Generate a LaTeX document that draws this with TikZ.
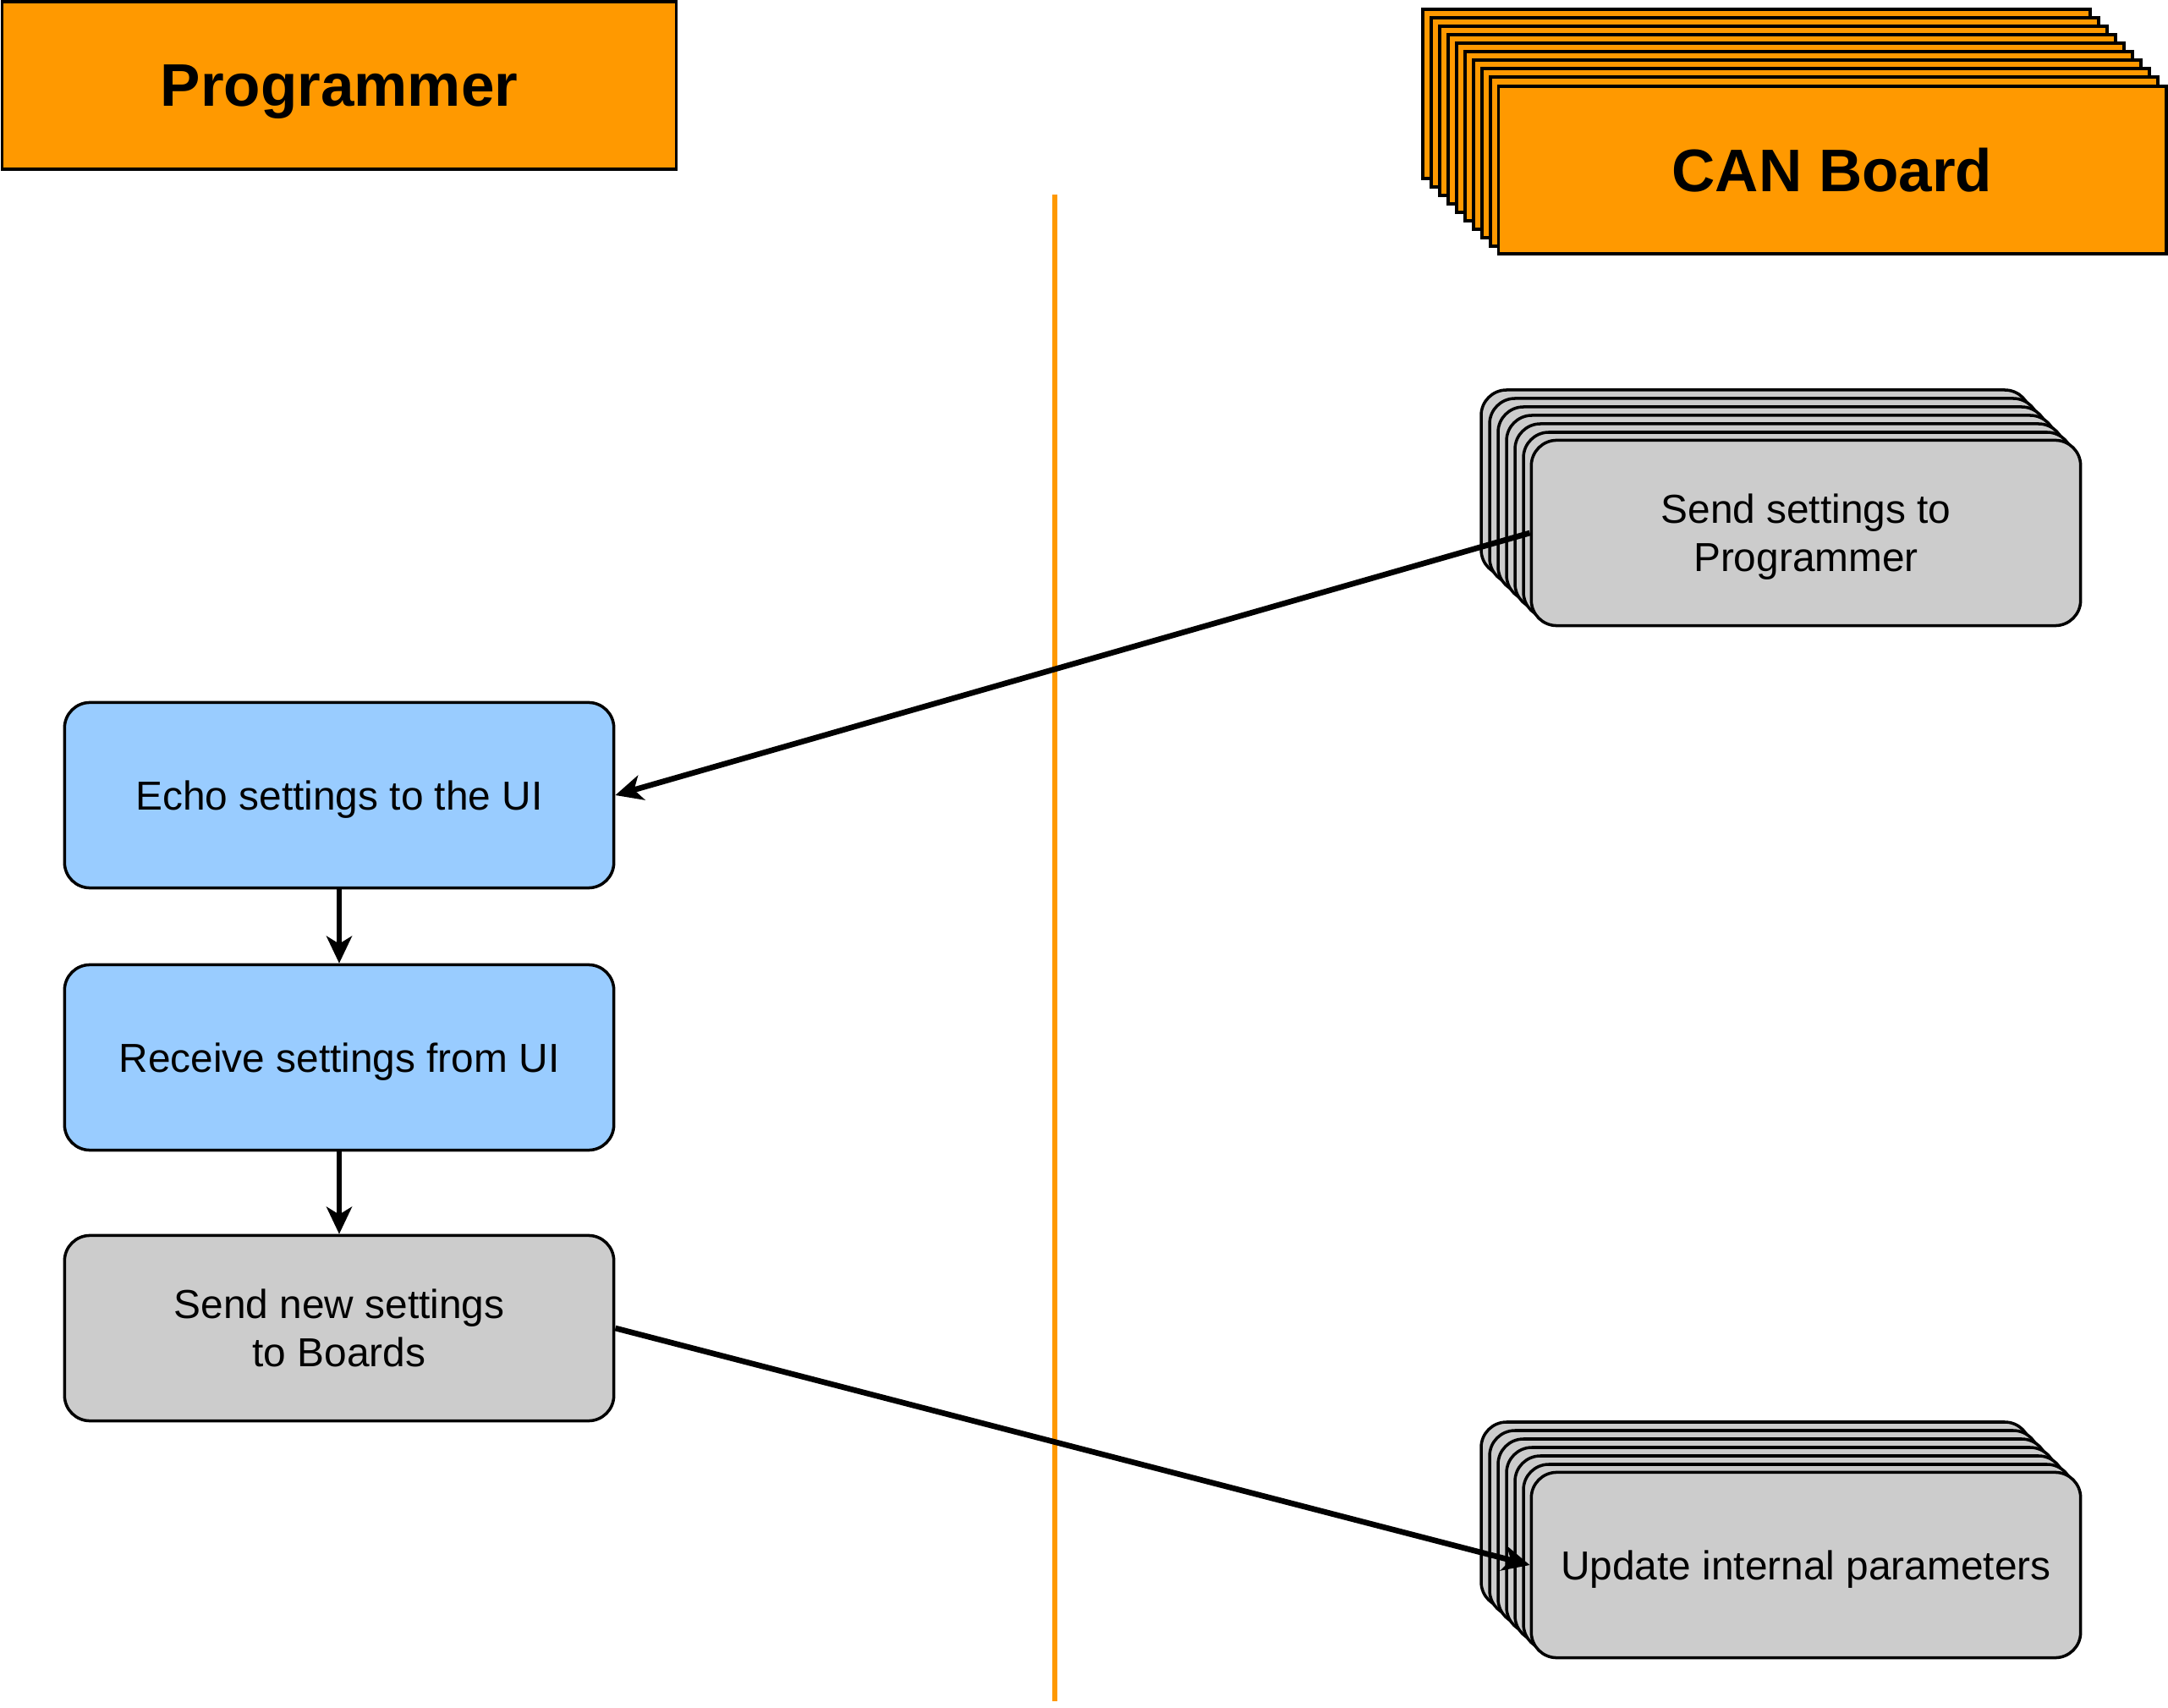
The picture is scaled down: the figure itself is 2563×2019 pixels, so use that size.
\documentclass[tikz,border=0pt]{standalone}
\usepackage{fontspec}
\setmainfont{Liberation Sans}
\usetikzlibrary{arrows.meta}

\definecolor{laneorange}{HTML}{FF9900}
\definecolor{uiblue}{HTML}{99CCFF}
\definecolor{boxgray}{HTML}{CCCCCC}

\tikzset{
    header/.style={draw, line width=1pt, fill=laneorange, minimum height=1.98cm,
        inner sep=0pt, text depth=0pt, font=\fontsize{20.2}{24}\selectfont\bfseries},
    stepbox/.style={draw, line width=1pt, rounded corners=0.3cm, minimum width=6.49cm,
        minimum height=2.19cm, inner sep=0pt, text depth=0pt, align=center,
        font=\fontsize{13.6}{16.3}\selectfont},
    flow/.style={line width=1.9pt, -{Stealth[length=0.32cm, width=0.3cm, inset=0.09cm]}}
}

\begin{document}
\begin{tikzpicture}[x=0.01cm, y=-0.01cm]
    \useasboundingbox (0,0) rectangle (2563,2019);

    % Headers
    \node[header, minimum width=7.97cm] (prog) at (401,101) {Programmer};
    \foreach \i in {9,...,1}
        \draw[line width=1pt, fill=laneorange] (1772-10*\i,101-10*\i) rectangle (2561-10*\i,301-10*\i);
    \node[header, minimum width=7.89cm] (can) at (2166,201) {CAN Board};

    % Divider
    \coordinate (divtop) at (1247,230);
    \coordinate (divbot) at (1247,2011);
    \draw[laneorange, line width=1.9pt] (divtop) -- (divbot);

    % Programmer side
    \node[stepbox, fill=uiblue] (echo) at (401,940) {Echo settings to the UI};
    \node[stepbox, fill=uiblue] (recv) at (401,1250) {Receive settings from UI};
    \node[stepbox, fill=boxgray] (sendnew) at (401,1570) {Send new settings\\to Boards};

    % Board side (stacked copies)
    \foreach \i in {6,...,1}
        \draw[line width=1pt, fill=boxgray, rounded corners=0.3cm]
            (1811-10*\i,521-10*\i) rectangle (2460-10*\i,740-10*\i);
    \node[stepbox, fill=boxgray] (sendset) at (2135,630) {Send settings to\\Programmer};
    \foreach \i in {6,...,1}
        \draw[line width=1pt, fill=boxgray, rounded corners=0.3cm]
            (1811-10*\i,1741-10*\i) rectangle (2460-10*\i,1960-10*\i);
    \node[stepbox, fill=boxgray] (update) at (2135,1850) {Update internal parameters};

    % Connectors
    \draw[flow] (sendset.west) -- (echo.east);
    \draw[flow] (echo.south) -- (recv.north);
    \draw[flow] (recv.south) -- (sendnew.north);
    \draw[flow] (sendnew.east) -- (update.west);
\end{tikzpicture}
\end{document}
